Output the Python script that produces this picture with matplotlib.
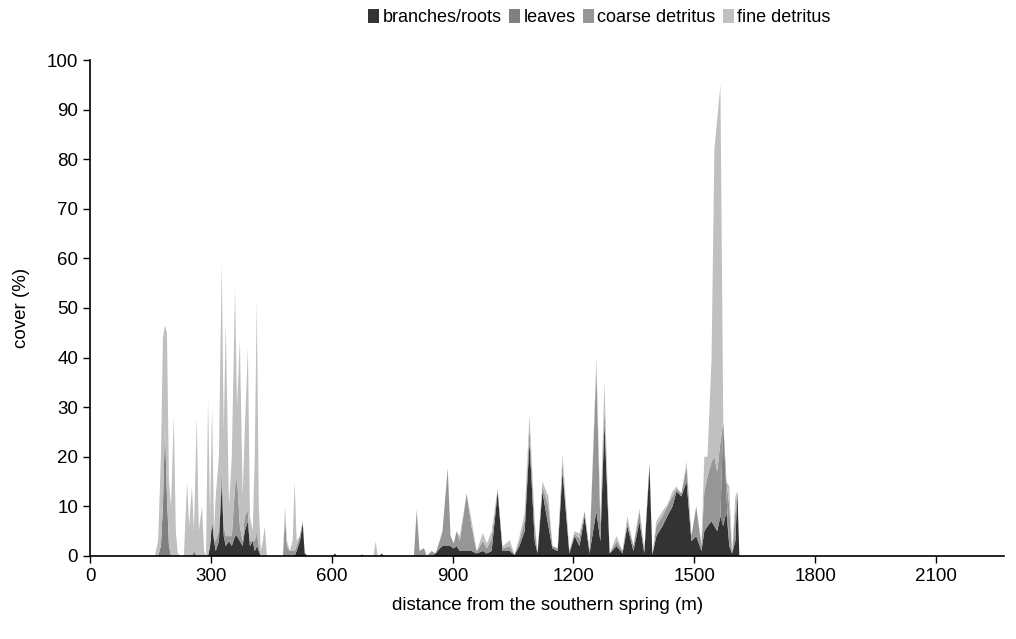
import matplotlib.pyplot as plt
from matplotlib.patches import Patch

plt.rcParams['font.family'] = ['Liberation Sans', 'DejaVu Sans']

# distance along the stream (m) and cover (%) of each layer
distance = [0, 161, 169, 176, 181, 186, 191, 196, 201, 208, 213, 218, 226, 233,
            241, 246, 253, 258, 265, 270, 278, 283, 288, 293, 298, 303, 308, 312,
            320, 327, 332, 337, 345, 352, 360, 365, 372, 379, 384, 392, 397, 404,
            409, 414, 419, 424, 429, 434, 439, 479, 484, 489, 496, 503, 508, 513,
            521, 528, 533, 541, 603, 608, 613, 670, 675, 680, 704, 709, 714, 719,
            724, 729, 804, 811, 818, 829, 836, 848, 858, 868, 875, 888, 895, 903,
            910, 918, 935, 947, 960, 975, 985, 997, 1012, 1024, 1042, 1054, 1066,
            1079, 1091, 1104, 1111, 1123, 1138, 1148, 1161, 1173, 1190, 1203, 1215,
            1228, 1240, 1257, 1267, 1277, 1290, 1307, 1322, 1334, 1349, 1364, 1376,
            1389, 1396, 1406, 1421, 1433, 1446, 1456, 1468, 1481, 1493, 1505, 1518,
            1525, 1533, 1543, 1550, 1557, 1565, 1572, 1580, 1587, 1594, 1602, 1607,
            1612, 2270]

branches = [0, 0, 0, 0, 0, 0, 0, 0, 0, 0, 0, 0, 0, 0,
            0, 0, 0, 0, 0, 0, 0, 0, 0, 0, 2, 7, 3, 1,
            3, 15, 4, 2, 3, 2, 4, 4, 3, 2, 5, 7, 2, 3,
            1, 2, 1, 0, 0, 0, 0, 0, 0, 0, 0, 0, 0, 1,
            3, 6.6, 0.5, 0, 0, 0.5, 0, 0, 0.3, 0, 0, 0, 0, 0,
            0.5, 0, 0, 0, 0, 0, 0, 0, 0.5, 1.5, 2, 2, 2, 1.5,
            2, 1, 1, 1, 0.5, 1, 0.5, 1, 13, 1, 1, 0.2, 2,
            5, 23, 3, 0.5, 13, 6, 1.5, 1, 17, 0.5, 4, 2,
            8, 0.5, 9, 3, 27, 0.5, 2, 0.5, 6, 1, 7, 0.5,
            18, 0.2, 4, 6, 8, 10, 13, 12, 15, 3, 4, 1,
            5, 6, 7, 6, 5, 8, 6, 9, 2, 0.5, 3, 13,
            0, 0]

leaves = [0, 0, 0, 2, 10, 26, 12, 2, 0, 0, 0, 0, 0, 0,
          0, 0, 0, 1, 0, 0, 0, 0, 0, 0, 0, 0, 0, 0,
          0, 0, 0, 0, 0, 0, 0, 0, 0, 0, 0, 0, 0, 0,
          0, 0, 0, 0, 0, 0, 0, 0, 0, 0, 0, 0, 0, 0,
          0, 0, 0, 0, 0, 0, 0, 0, 0, 0, 0, 0, 0, 0,
          0, 0, 0, 0, 0, 0, 0, 0, 0, 0, 0, 0, 0, 0,
          0, 0, 0, 0, 0, 0, 0, 0, 0, 0, 0, 0, 0,
          0, 0, 0, 0, 0, 0, 0, 0, 0, 0, 0, 0,
          0, 0, 0, 0, 0, 0, 0, 0, 0, 0, 0, 0,
          0, 0, 0, 0, 0, 0, 0, 0, 0, 0, 0, 0,
          0, 0, 0, 0, 0, 0, 21, 3, 0, 0, 0, 0,
          0, 0]

coarse = [0, 0, 0, 0, 0, 0, 0, 0, 0, 0, 0, 0, 0, 0,
          0, 0, 0, 0, 0, 0, 0, 0, 0, 0, 0, 0, 0, 2,
          2, 3, 2, 2, 1, 2, 10, 12, 3, 1, 3, 2, 1, 0,
          2, 3, 1, 0, 0, 0, 0, 0, 8, 2, 1, 1, 1, 1,
          1, 0.4, 0, 0, 0, 0, 0, 0, 0, 0, 0, 0, 0, 0,
          0, 0, 0, 9.3, 1, 1.6, 0, 1, 0, 1.5, 3, 15.7, 2, 1,
          3, 2, 11.6, 5, 0.4, 2, 1, 2.5, 0.6, 0.5, 1, 0, 1,
          2, 3, 3, 0, 1, 4, 0.5, 0.5, 2, 0.5, 0.5, 1.5,
          1, 0.5, 29, 3, 3, 0, 1, 0.5, 1, 1, 2, 0.5,
          1, 0, 2, 2, 2, 2, 0.5, 0.6, 3, 1, 6, 1,
          8, 10, 12, 14, 12, 15, 0, 3, 8, 0, 6, 0,
          0, 0]

fine = [0, 0, 3, 18, 34, 20.5, 33, 13, 10, 28, 5, 0.5, 0, 0,
        15, 6, 14, 4, 28, 5, 10, 1, 0, 32, 6, 23, 2, 9,
        15, 41, 19, 43, 6, 16, 40, 14, 37.6, 9, 17, 33, 5, 2,
        17, 46.5, 8, 1, 3, 6, 0, 0, 2, 1, 0, 2, 14, 1,
        0, 0, 0, 0, 0, 0, 0, 0, 0, 0, 0, 3, 0, 0,
        0, 0, 0, 0, 0, 0, 0, 0, 0, 0, 0, 0, 0, 0,
        0, 1, 0, 1.3, 0, 1.6, 1, 1.4, 0, 0.4, 1.2, 0, 0.9,
        1.6, 2.5, 1, 0, 1, 2, 0, 0, 1.5, 0, 0.5, 1,
        0, 0, 2, 2, 5, 0, 1, 0, 1, 0, 0.6, 0,
        0, 0, 1, 1, 0.3, 1, 0.5, 0, 1, 0, 0, 0.5,
        7, 4, 21, 62, 71, 72, 0, 0, 4, 0, 3, 0,
        0, 0]

labels = ['branches/roots', 'leaves', 'coarse detritus', 'fine detritus']
colors = ['#333333', '#808080', '#969696', '#c0c0c0']

fig = plt.figure(figsize=(10.16, 6.39), dpi=100)
ax = fig.add_axes([0.0886, 0.130, 0.9, 0.776])

ax.stackplot(distance, branches, leaves, coarse, fine, colors=colors,
             linewidth=0)

ax.set_xlim(0, 2270)
ax.set_ylim(0, 100)
ax.set_xticks(range(0, 2101, 300))
ax.set_yticks(range(0, 101, 10))
ax.tick_params(direction='out', length=5, width=1, labelsize=13.5, color='black')
for side in ['top', 'right']:
    ax.spines[side].set_visible(False)
for side in ['left', 'bottom']:
    ax.spines[side].set_linewidth(1.2)

ax.set_xlabel('distance from the southern spring (m)', fontsize=13.5, labelpad=9)
ax.set_ylabel('cover (%)', fontsize=13.5, labelpad=12)

handles = [Patch(facecolor=c, edgecolor='none') for c in colors]
fig.legend(handles, labels, loc='center', bbox_to_anchor=(0.59, 0.972), ncol=4,
           frameon=False, fontsize=13, handlelength=0.6, handleheight=0.8,
           handletextpad=0.2, columnspacing=0.4)

fig.savefig('out.png', dpi=100)
